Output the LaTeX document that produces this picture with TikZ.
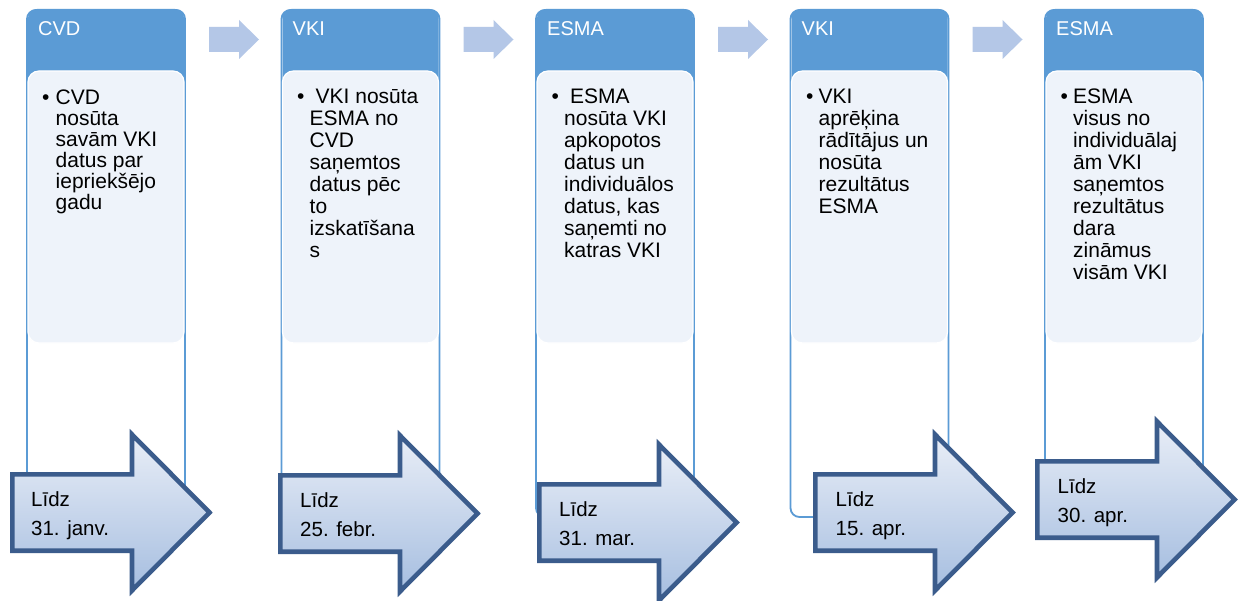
\documentclass[tikz,border=0pt]{standalone}
\usepackage{fontspec}
\setmainfont{Liberation Sans}
\definecolor{hdr}{HTML}{5B9BD5}
\definecolor{inbox}{HTML}{EEF3FA}
\definecolor{smarr}{HTML}{B4C7E7}
\definecolor{bigedge}{HTML}{3B5C8C}
\definecolor{bigtop}{HTML}{E9EEF7}
\definecolor{bigbot}{HTML}{A6BEE0}
\newcommand\bodylines[5]{%
  \foreach \t [count=\i] in {#5} {\node[bodytxt] (#1\i) at (#2,{#3+#4*(\i-1)}) {\t};}}
\newcommand\mybigarrow[4]{%
  \path[bigarrow] (#2+2.3,#3+2.3) -- (#2+122,#3+2.3) -- (#2+122,#3-37.5) -- (#2+199.5,#3+40.5)
    -- (#2+122,#3+118.5) -- (#2+122,#3+78.7) -- (#2+2.3,#3+78.7) -- cycle;
  \node[arrtxt] (#1a) at (#2+#4,#3+34.5) {Līdz};}
\begin{document}
\begin{tikzpicture}[x=1pt,y=-1pt,
  colline/.style={draw=hdr, line width=1.8pt, fill=white, rounded corners=9pt},
  hdrfill/.style={fill=hdr, rounded corners=9pt},
  innerbox/.style={fill=inbox, draw=white, line width=1.2pt, rounded corners=11pt},
  smallarrow/.style={fill=smarr},
  bigarrow/.style={draw=bigedge, line width=4.6pt, line join=miter, top color=bigtop, bottom color=bigbot},
  hdrtxt/.style={text=white, font=\fontsize{20}{22}\selectfont, inner sep=0pt, anchor=base west},
  bodytxt/.style={font=\fontsize{21}{22}\selectfont, inner sep=0pt, anchor=base west},
  arrtxt/.style={font=\fontsize{20.5}{22}\selectfont, inner sep=0pt, anchor=base west}
]
\useasboundingbox (0,0) rectangle (1244,601);
\fill[white] (0,0) rectangle (1244,601);
% columns
\foreach \k in {0,...,4}{
  \pgfmathsetmacro\cx{28+254.5*\k}
  \path[colline] ({\cx-1},10) rectangle ({\cx+157},517);
  \path[hdrfill] (\cx,9) rectangle ({\cx+156},95);
  \path[innerbox] (\cx,71) rectangle ({\cx+156},343);
}
% small arrows
\foreach \k in {0,...,3}{
  \pgfmathsetmacro\ax{209+254.5*\k}
  \path[smallarrow] (\ax,27) -- ({\ax+30},27) -- ({\ax+30},20) -- ({\ax+50},39.5)
    -- ({\ax+30},59) -- ({\ax+30},52) -- (\ax,52) -- cycle;
}
% big arrows
\mybigarrow{d1}{10}{472}{21}
\node[arrtxt] (d1b) at (31,535) {31. janv.};
\mybigarrow{d2}{278}{473}{22}
\node[arrtxt] (d2b) at (300,536) {25. febr.};
\mybigarrow{d3}{537}{482}{22}
\node[arrtxt] (d3b) at (559,545) {31. mar.};
\mybigarrow{d4}{813}{472}{22.5}
\node[arrtxt] (d4b) at (835.5,535) {15. apr.};
\mybigarrow{d5}{1035}{459}{22.5}
\node[arrtxt] (d5b) at (1057.5,522) {30. apr.};
% headers
\node[hdrtxt] (h1) at (38,35.7) {CVD};
\node[hdrtxt] (h2) at (292.5,35.7) {VKI};
\node[hdrtxt] (h3) at (547,35.7) {ESMA};
\node[hdrtxt] (h4) at (801.5,35.7) {VKI};
\node[hdrtxt] (h5) at (1056,35.7) {ESMA};
% bullets
\node[bodytxt] (b1) at (42,104.5) {•};
\node[bodytxt] (b2) at (297,104) {•};
\node[bodytxt] (b3) at (551.5,104) {•};
\node[bodytxt] (b4) at (806,104) {•};
\node[bodytxt] (b5) at (1060.5,104) {•};
% body text
\bodylines{t1}{55.5}{104.5}{21}{CVD,nosūta,savām VKI,datus par,iepriekšējo,gadu}
\bodylines{t2}{309.5}{104}{22}{\hspace*{6pt}VKI nosūta,ESMA no,CVD,saņemtos,datus pēc,to,izskatīšana,s}
\bodylines{t3}{564}{104}{22}{\hspace*{6pt}ESMA,nosūta VKI,apkopotos,datus un,individuālos,{datus, kas},saņemti no,katras VKI}
\bodylines{t4}{818.5}{104}{22}{VKI,aprēķina,rādītājus un,nosūta,rezultātus,ESMA}
\bodylines{t5}{1073}{104}{22}{ESMA,visus no,individuālaj,ām VKI,saņemtos,rezultātus,dara,zināmus,visām VKI}
\end{tikzpicture}
\end{document}
